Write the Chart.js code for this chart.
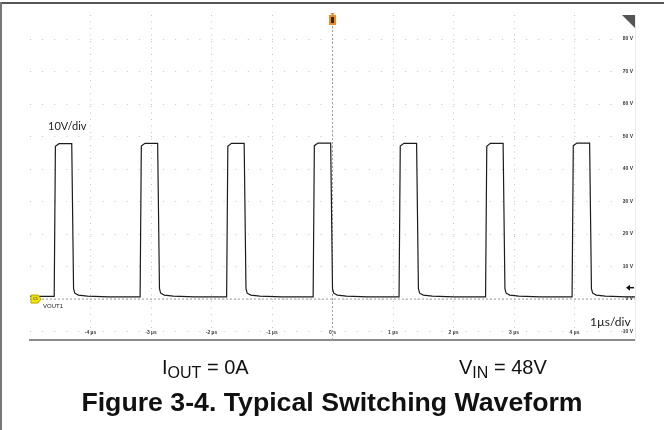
<!DOCTYPE html>
<html>
<head>
<meta charset="utf-8">
<script src="https://cdn.jsdelivr.net/npm/chart.js@4.4.1/dist/chart.umd.min.js"></script>
<style>
html, body { margin: 0; padding: 0; background: #fff; }
body { width: 664px; height: 430px; position: relative; overflow: hidden; font-family: "Liberation Sans", Arial, sans-serif; }
#scope { position: absolute; left: 0; top: 0; }
.frame-top { position: absolute; left: 0; top: 2px; width: 664px; height: 2px; background: #555; }
.frame-left { position: absolute; left: 0; top: 2px; width: 2px; height: 428px; background: #777; }
.cap { position: absolute; font-size: 20px; color: #111; white-space: nowrap; line-height: 20px; }
.cap sub { font-size: 16px; vertical-align: -4px; line-height: 0; }
.title { position: absolute; left: 0; width: 664px; text-align: center; top: 388px; font-size: 26.7px; font-weight: bold; color: #111; line-height: 28px; }
</style>
</head>
<body>
<canvas id="scope" width="664" height="430"></canvas>
<div class="frame-top"></div>
<div class="frame-left"></div>
<div class="cap" style="left:162px; top:357px">I<sub>OUT</sub> = 0A</div>
<div class="cap" style="left:459px; top:357px">V<sub>IN</sub> = 48V</div>
<div class="title">Figure 3-4. Typical Switching Waveform</div>
<script>
// time axis in µs, voltage in V (10 V/div, 1 µs/div)
const xTicks = [-4, -3, -2, -1, 0, 1, 2, 3, 4];
const yTicks = [-10, 0, 10, 20, 30, 40, 50, 60, 70, 80];
const xMin = -5, xMax = 5;
const yMin = -12.6, yMax = 87.4;

// switch node pulses
const pulseRise = [-4.60, -3.18, -1.75, -0.32, 1.10, 2.53, 3.96];
const pulseFall = [-4.30, -2.88, -1.45, -0.02, 1.40, 2.83, 4.26];
const pulseTopStart = [47.0, 47.1, 47.0, 47.2, 47.1, 47.0, 47.2];
const pulseTop = [47.8, 47.9, 47.9, 48.0, 47.9, 47.9, 48.0];
// ringing tail after each falling edge
const tailOffset = [0.02, 0.04, 0.10, 0.25, 0.60];
const tailLevel = [3.2, 1.8, 1.2, 0.9, 0.7];
const startLevel = 0.8;
const triggerLevel = 3.5;

const trace = [{ x: xMin, y: startLevel }];
pulseRise.forEach((t, i) => {
    const low = trace[trace.length - 1].y;
    trace.push({ x: t, y: low });
    trace.push({ x: t + 0.02, y: pulseTopStart[i] });
    trace.push({ x: t + 0.08, y: pulseTop[i] });
    trace.push({ x: pulseFall[i] - 0.01, y: pulseTop[i] });
    tailOffset.forEach((d, k) => trace.push({ x: pulseFall[i] + d, y: tailLevel[k] }));
});
trace.push({ x: xMax, y: tailLevel[tailLevel.length - 1] });

const scopeDecor = {
    id: 'scopeDecor',
    afterDraw(chart) {
        const ctx = chart.ctx;
        const a = chart.chartArea;
        const xs = chart.scales.x, ys = chart.scales.y;
        ctx.save();

        // tick labels inside the screen
        ctx.fillStyle = '#3a3a3a';
        ctx.font = 'bold 5px "Liberation Sans"';
        ctx.textAlign = 'right';
        ctx.textBaseline = 'middle';
        yTicks.forEach(v => ctx.fillText(v + ' V', a.right - 2, ys.getPixelForValue(v)));
        ctx.textAlign = 'center';
        xTicks.forEach(v => ctx.fillText(v === 0 ? '0 s' : v + ' \u00b5s', xs.getPixelForValue(v), a.bottom - 7));

        // scale notes
        ctx.fillStyle = '#222';
        ctx.textAlign = 'left';
        ctx.font = '11px Lato';
        ctx.fillText('10V/div', 48, 126);
        ctx.font = '12px Lato';
        ctx.fillText('1\u00b5s/div', 590, 322);

        // channel 1 marker
        const y0 = ys.getPixelForValue(0);
        ctx.fillStyle = '#f2e600';
        ctx.strokeStyle = '#b8a800';
        ctx.lineWidth = 1;
        ctx.beginPath();
        ctx.moveTo(a.left + 1, y0 - 4);
        ctx.lineTo(a.left + 8, y0 - 4);
        ctx.lineTo(a.left + 11, y0);
        ctx.lineTo(a.left + 8, y0 + 4);
        ctx.lineTo(a.left + 1, y0 + 4);
        ctx.closePath();
        ctx.fill();
        ctx.stroke();
        ctx.fillStyle = '#555';
        ctx.font = 'bold 4px "Liberation Sans"';
        ctx.textAlign = 'center';
        ctx.fillText('C1', a.left + 5.5, y0);
        ctx.fillStyle = '#222';
        ctx.font = '6px "Liberation Sans"';
        ctx.textAlign = 'left';
        ctx.fillText('VOUT1', a.left + 13, y0 + 7);

        // trigger position marker
        const xt = xs.getPixelForValue(0);
        ctx.fillStyle = '#f08a24';
        ctx.beginPath();
        ctx.moveTo(xt - 2, a.top - 2);
        ctx.lineTo(xt + 2, a.top - 2);
        ctx.lineTo(xt, a.top + 1);
        ctx.closePath();
        ctx.fill();
        ctx.fillRect(xt - 3.5, a.top, 7, 10);
        ctx.fillStyle = '#3a2410';
        ctx.fillRect(xt - 1.5, a.top + 2, 3, 6);

        // corner tab
        ctx.fillStyle = '#555';
        ctx.beginPath();
        ctx.moveTo(a.right - 13, a.top);
        ctx.lineTo(a.right, a.top);
        ctx.lineTo(a.right, a.top + 13);
        ctx.closePath();
        ctx.fill();

        // trigger level arrow
        const yl = ys.getPixelForValue(triggerLevel);
        ctx.strokeStyle = '#111';
        ctx.fillStyle = '#111';
        ctx.lineWidth = 1.5;
        ctx.beginPath();
        ctx.moveTo(a.right - 1, yl);
        ctx.lineTo(a.right - 6, yl);
        ctx.stroke();
        ctx.beginPath();
        ctx.moveTo(a.right - 9, yl);
        ctx.lineTo(a.right - 5, yl - 3);
        ctx.lineTo(a.right - 5, yl + 3);
        ctx.closePath();
        ctx.fill();

        ctx.restore();
    }
};

new Chart(document.getElementById('scope'), {
    type: 'line',
    data: {
        datasets: [{
            data: trace,
            borderColor: '#1c1c1c',
            borderWidth: 1.2,
            pointRadius: 0,
            tension: 0
        }, {
            data: [{ x: xMin, y: 0 }, { x: xMax, y: 0 }],
            borderColor: '#9a9a9a',
            borderWidth: 1,
            borderDash: [2, 2],
            pointRadius: 0
        }, {
            data: [{ x: 0, y: yMin }, { x: 0, y: yMax }],
            borderColor: '#a0a0a0',
            borderWidth: 1,
            borderDash: [2, 2],
            pointRadius: 0
        }]
    },
    options: {
        responsive: false,
        animation: false,
        events: [],
        layout: { padding: { left: 30, right: 29, top: 15, bottom: 90 } },
        plugins: { legend: { display: false }, tooltip: { enabled: false } },
        scales: {
            x: {
                type: 'linear',
                min: xMin,
                max: xMax,
                afterBuildTicks: s => { s.ticks = xTicks.map(v => ({ value: v })); },
                grid: { color: '#c4c4c4', lineWidth: 1, drawTicks: false },
                border: { display: true, color: '#8c8c8c', width: 2, dash: [1, 5.5] },
                ticks: { display: false }
            },
            y: {
                position: 'right',
                min: yMin,
                max: yMax,
                afterBuildTicks: s => { s.ticks = yTicks.map(v => ({ value: v })); },
                grid: { color: '#c4c4c4', lineWidth: 1, drawTicks: false },
                border: { display: true, color: '#ececec', width: 1, dash: [1, 11.1] },
                ticks: { display: false }
            }
        }
    },
    plugins: [scopeDecor]
});
</script>
</body>
</html>
